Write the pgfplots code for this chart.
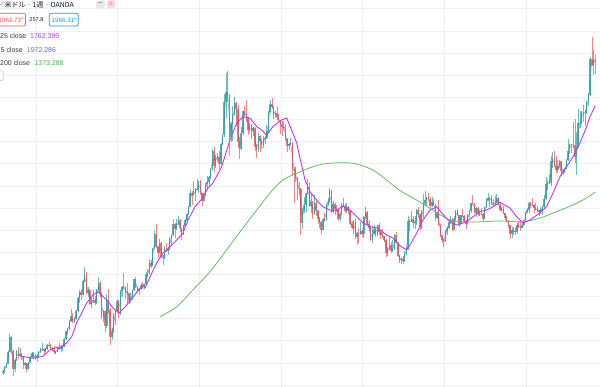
\documentclass[border=0pt]{standalone}
\usepackage{pgfplots}
\pgfplotsset{compat=1.18}
\usepackage{pgfplotstable}
\usepackage{fontspec}
\setmainfont{Liberation Sans}
\newfontfamily\jp{Noto Sans CJK JP}
\definecolor{upc}{HTML}{26A69A}
\definecolor{dnc}{HTML}{EF5350}
\definecolor{ma25c}{HTML}{C435F0}
\definecolor{ma200c}{HTML}{5DBB5D}
\definecolor{ma5c}{HTML}{5C6BC0}
\definecolor{gridc}{HTML}{EDF0F5}
\definecolor{txt}{HTML}{131722}
\definecolor{boxred}{HTML}{F7525F}
\definecolor{boxblue}{HTML}{2196F3}
\definecolor{v5c}{HTML}{7A5CD6}
\definecolor{v200c}{HTML}{4CAF50}

\pgfplotstableread{
i o h l c
0 555 568 545 562
1 562 586 555 582
2 582 600 578 597
3 597 654 595 650
4 650 730 648 718
5 718 722 640 652
6 652 658 543 572
7 572 616 560 614
8 614 660 610 652
9 652 670 620 632
10 632 666 630 642
11 642 645 612 625
12 625 628 575 590
13 590 605 573 599
14 599 600 560 575
15 575 605 570 604
16 604 632 600 628
17 628 650 622 646
18 646 648 620 625
19 625 640 612 632
20 632 640 603 628
21 628 652 625 650
22 650 668 645 665
23 665 690 652 665
24 665 668 637 652
25 652 666 648 662
26 662 684 660 682
27 682 693 675 680
28 680 688 660 666
29 666 672 652 659
30 659 675 642 648
31 648 655 640 650
32 650 668 648 666
33 666 692 660 665
34 665 682 648 670
35 670 675 655 672
36 672 712 670 708
37 708 745 702 743
38 743 760 725 755
39 755 795 750 789
40 789 845 785 812
41 812 825 780 783
42 783 810 780 800
43 800 838 795 834
44 834 900 832 895
45 895 932 870 923
46 923 930 885 908
47 908 975 905 972
48 972 1032 965 1002
49 1002 1010 910 916
50 916 945 900 930
51 930 935 862 865
52 865 895 850 880
53 880 930 870 885
54 885 902 860 870
55 870 935 865 928
56 928 988 925 960
57 960 970 900 913
58 913 920 800 810
59 810 840 786 833
60 833 835 740 765
61 765 910 760 884
62 884 935 820 840
63 840 850 681 718
64 718 760 705 740
65 740 825 735 814
66 814 840 770 836
67 836 885 830 882
68 882 885 805 820
69 820 930 815 927
70 927 950 900 942
71 942 1005 935 942
72 942 950 890 920
73 920 960 866 917
74 917 918 865 880
75 880 915 870 891
76 891 930 885 928
77 928 980 925 979
78 979 990 940 945
79 945 948 915 926
80 926 940 908 935
81 935 960 930 954
82 954 968 940 945
83 945 958 935 955
84 955 1010 952 1002
85 1002 1025 990 1001
86 1001 1070 1000 1052
87 1052 1065 1030 1040
88 1040 1120 1038 1118
89 1118 1195 1110 1182
90 1182 1227 1120 1125
91 1125 1130 1075 1096
92 1096 1162 1095 1140
93 1140 1145 1075 1081
94 1081 1090 1045 1075
95 1075 1128 1070 1118
96 1118 1140 1100 1105
97 1105 1125 1088 1115
98 1115 1168 1112 1160
99 1160 1180 1130 1180
100 1180 1249 1175 1228
101 1228 1232 1165 1207
102 1207 1252 1200 1228
103 1228 1265 1225 1245
104 1245 1250 1190 1210
105 1210 1212 1155 1181
106 1181 1225 1180 1220
107 1220 1250 1215 1248
108 1248 1275 1240 1275
109 1275 1310 1270 1307
110 1307 1387 1305 1368
111 1368 1375 1315 1357
112 1357 1424 1355 1368
113 1368 1390 1330 1386
114 1386 1432 1380 1385
115 1385 1422 1370 1421
116 1421 1425 1360 1368
117 1368 1370 1309 1333
118 1333 1370 1330 1360
119 1360 1415 1355 1409
120 1409 1445 1380 1420
121 1420 1447 1400 1439
122 1439 1480 1430 1474
123 1474 1566 1470 1556
124 1556 1577 1462 1492
125 1492 1538 1480 1536
126 1536 1550 1510 1530
127 1530 1560 1478 1500
128 1500 1595 1495 1590
129 1590 1632 1585 1628
130 1628 1815 1620 1780
131 1780 1912 1705 1826
132 1826 1921 1780 1810
133 1810 1815 1535 1620
134 1620 1690 1600 1682
135 1682 1760 1605 1722
136 1722 1803 1720 1775
137 1775 1780 1670 1746
138 1746 1764 1570 1598
139 1598 1620 1523 1565
140 1565 1665 1562 1640
141 1640 1740 1630 1737
142 1737 1760 1715 1725
143 1725 1790 1690 1710
144 1710 1712 1630 1655
145 1655 1685 1640 1669
146 1669 1680 1612 1650
147 1650 1668 1627 1664
148 1664 1665 1560 1575
149 1575 1590 1527 1561
150 1561 1640 1555 1625
151 1625 1630 1555 1604
152 1604 1610 1565 1585
153 1585 1625 1570 1614
154 1614 1625 1590 1615
155 1615 1675 1612 1648
156 1648 1740 1645 1735
157 1735 1788 1730 1772
158 1772 1796 1750 1756
159 1756 1760 1703 1719
160 1719 1738 1705 1730
161 1730 1755 1700 1712
162 1712 1725 1690 1696
163 1696 1700 1635 1675
164 1675 1695 1625 1665
165 1665 1695 1655 1663
166 1663 1680 1605 1610
167 1610 1615 1555 1579
168 1579 1595 1562 1590
169 1590 1617 1585 1596
170 1596 1600 1450 1478
171 1478 1485 1321 1476
172 1476 1487 1420 1435
173 1435 1440 1338 1392
174 1392 1416 1365 1385
175 1385 1390 1180 1234
176 1234 1300 1207 1285
177 1285 1348 1280 1312
178 1312 1370 1282 1368
179 1368 1433 1365 1395
180 1395 1420 1305 1310
181 1310 1370 1276 1327
182 1327 1330 1251 1275
183 1275 1361 1270 1323
184 1323 1330 1262 1288
185 1288 1292 1230 1250
186 1250 1261 1210 1235
187 1235 1240 1182 1202
188 1202 1255 1200 1252
189 1252 1280 1238 1244
190 1244 1320 1240 1318
191 1318 1345 1310 1326
192 1326 1392 1325 1380
193 1380 1382 1280 1284
194 1284 1332 1280 1318
195 1318 1322 1268 1296
196 1296 1315 1282 1293
197 1293 1297 1240 1250
198 1250 1278 1240 1275
199 1275 1325 1270 1320
200 1320 1345 1305 1310
201 1310 1320 1280 1285
202 1285 1322 1280 1305
203 1305 1310 1273 1287
204 1287 1288 1225 1230
205 1230 1240 1205 1208
206 1208 1245 1183 1238
207 1238 1255 1160 1171
208 1171 1190 1131 1185
209 1185 1208 1142 1183
210 1183 1238 1180 1195
211 1195 1200 1170 1183
212 1183 1265 1167 1260
213 1260 1307 1250 1283
214 1283 1285 1220 1228
215 1228 1245 1195 1212
216 1212 1220 1150 1158
217 1158 1220 1142 1183
218 1183 1224 1180 1205
219 1205 1215 1170 1183
220 1183 1225 1175 1223
221 1223 1232 1180 1190
222 1190 1200 1162 1180
223 1180 1205 1165 1172
224 1172 1175 1145 1155
225 1155 1160 1077 1095
226 1095 1125 1085 1115
227 1115 1170 1110 1133
228 1133 1145 1098 1105
229 1105 1157 1100 1115
230 1115 1185 1110 1180
231 1180 1191 1140 1142
232 1142 1145 1080 1082
233 1082 1090 1052 1065
234 1065 1080 1046 1068
235 1068 1082 1047 1061
236 1061 1105 1058 1098
237 1098 1125 1090 1118
238 1118 1263 1110 1240
239 1240 1250 1195 1238
240 1238 1287 1235 1250
241 1250 1262 1208 1233
242 1233 1262 1205 1236
243 1236 1298 1225 1293
244 1293 1304 1255 1272
245 1272 1275 1200 1215
246 1215 1290 1207 1282
247 1282 1362 1255 1322
248 1322 1375 1310 1336
249 1336 1352 1310 1351
250 1351 1368 1330 1340
251 1340 1352 1300 1309
252 1309 1352 1305 1328
253 1328 1343 1308 1316
254 1316 1318 1241 1256
255 1256 1285 1250 1277
256 1277 1338 1220 1225
257 1225 1228 1170 1173
258 1173 1180 1140 1158
259 1158 1160 1123 1151
260 1151 1200 1148 1196
261 1196 1220 1180 1211
262 1211 1245 1205 1235
263 1235 1264 1230 1249
264 1249 1255 1195 1203
265 1203 1262 1200 1249
266 1249 1290 1242 1288
267 1288 1295 1262 1268
268 1268 1270 1214 1230
269 1230 1270 1225 1268
270 1268 1296 1260 1266
271 1266 1270 1237 1242
272 1242 1245 1205 1228
273 1228 1272 1225 1269
274 1269 1292 1257 1285
275 1285 1325 1280 1322
276 1322 1357 1318 1320
277 1320 1325 1275 1280
278 1280 1306 1260 1302
279 1302 1306 1262 1271
280 1271 1290 1265 1275
281 1275 1299 1270 1275
282 1275 1280 1236 1252
283 1252 1306 1250 1303
284 1303 1345 1300 1337
285 1337 1366 1330 1345
286 1345 1350 1307 1347
287 1347 1360 1315 1318
288 1318 1340 1303 1320
289 1320 1355 1310 1325
290 1325 1365 1322 1346
291 1346 1350 1312 1315
292 1315 1326 1286 1290
293 1290 1307 1282 1298
294 1298 1309 1272 1278
295 1278 1280 1245 1253
296 1253 1265 1236 1241
297 1241 1245 1211 1224
298 1224 1225 1160 1183
299 1183 1214 1167 1201
300 1201 1213 1180 1195
301 1195 1214 1180 1192
302 1192 1233 1182 1225
303 1225 1243 1212 1214
304 1214 1237 1196 1212
305 1212 1231 1208 1222
306 1222 1248 1220 1241
307 1241 1284 1238 1282
308 1282 1300 1276 1291
309 1291 1326 1280 1321
310 1321 1326 1302 1314
311 1314 1346 1310 1313
312 1313 1315 1280 1302
313 1302 1325 1290 1292
314 1292 1310 1282 1290
315 1290 1292 1266 1283
316 1283 1303 1275 1296
317 1296 1308 1268 1305
318 1305 1358 1300 1342
319 1342 1439 1338 1409
320 1409 1425 1382 1415
321 1415 1452 1410 1413
322 1413 1535 1400 1512
323 1512 1555 1480 1520
324 1520 1557 1485 1489
325 1489 1535 1459 1472
326 1472 1518 1460 1489
327 1489 1516 1480 1513
328 1513 1515 1446 1468
329 1468 1478 1450 1464
330 1464 1483 1458 1477
331 1477 1520 1475 1517
332 1517 1611 1515 1557
333 1557 1590 1545 1589
334 1589 1590 1548 1585
335 1585 1689 1570 1585
336 1585 1703 1505 1530
337 1530 1645 1451 1577
338 1577 1747 1570 1685
339 1685 1738 1660 1686
340 1686 1740 1680 1735
341 1735 1765 1690 1730
342 1730 1745 1670 1730
343 1730 1785 1725 1781
344 1781 1818 1760 1810
345 1810 1984 1808 1975
346 1975 2075 1940 1945
347 1945 2015 1902 1967
348 1967 1992 1905 1964
}\gold

\pgfplotsset{
  wick/.style={forget plot, draw=none, mark=none, restrict y to domain=0:5000,
    error bars/.cd, y dir=minus, y explicit, error mark=none,
    error bar style={draw=#1, line width=0.6bp, opacity=0.7}},
  body/.style={forget plot, draw=none, mark=none, restrict y to domain=0:5000,
    error bars/.cd, y dir=minus, y explicit, error mark=none,
    error bar style={draw=#1, line width=1.5bp, line cap=butt, opacity=0.78}},
}

\begin{document}
\begin{tikzpicture}
\begin{axis}[name=ax, width=600bp, height=387bp, scale only axis,
  xmin=-1.735, xmax=350.8, ymin=491.5, ymax=2240.3,
  axis line style={draw=none}, tick style={draw=none},
  xtick={19.5,67.5,115.5,163.5,211.5,259.5,307.5},
  ytick={500,600,...,2200},
  xticklabels={}, yticklabels={},
  grid=major, major grid style={draw=gridc, line width=0.9bp},
]
\addplot[wick=upc] table[x=i, y expr={\thisrow{c}>=\thisrow{o} ? \thisrow{h} : 9999}, y error minus expr={\thisrow{h}-\thisrow{l}}]{\gold};
\addplot[wick=dnc] table[x=i, y expr={\thisrow{c}<\thisrow{o} ? \thisrow{h} : 9999}, y error minus expr={\thisrow{h}-\thisrow{l}}]{\gold};
\addplot[body=upc] table[x=i, y expr={\thisrow{c}>=\thisrow{o} ? \thisrow{c} : 9999}, y error minus expr={\thisrow{c}-\thisrow{o}}]{\gold};
\addplot[body=dnc] table[x=i, y expr={\thisrow{c}<\thisrow{o} ? \thisrow{o} : 9999}, y error minus expr={\thisrow{o}-\thisrow{c}}]{\gold};

% MA 5 (line through the candles)
\addplot[ma5c, line width=0.5bp, opacity=0.7, mark=none] table[x=i, y expr={(\thisrow{o}+\thisrow{c})/2}]{\gold};

% MA 200
\addplot[ma200c, line width=0.75bp, smooth, mark=none] coordinates {
(92.3,809) (102.1,854) (111.6,930) (121.6,1012) (131.4,1111) (139.3,1193)
(149.1,1291) (156.9,1368) (164.5,1427) (174.5,1464) (178.5,1477) (188.0,1499)
(199.8,1505) (207.8,1499) (217.4,1472) (225.4,1427) (233.3,1379) (243.1,1336)
(252.6,1291) (262.6,1246) (272.4,1238) (282.0,1238) (292.0,1242) (305.5,1238)
(315.5,1255) (325.3,1284) (334.9,1314) (343.0,1346) (348,1373)
};

% MA 25
\addplot[ma25c, line width=0.9bp, mark=none] coordinates {
(10.0,632) (16.9,622) (19.8,624) (23.5,631) (27.6,659) (30.6,668) (34.5,674)
(37.4,690) (40.4,719) (43.3,781) (46.3,826) (49.2,871) (52.9,907) (55.8,922)
(58.8,900) (60.9,885) (64.7,848) (68.2,826) (71.7,853) (76.4,898) (80.5,939)
(83.5,939) (86.4,989) (90.3,1052) (94.0,1097) (98.1,1124) (102.1,1156)
(105.8,1187) (108.7,1246) (112.8,1305) (116.8,1341) (120.5,1391) (123.4,1413)
(128.5,1487) (133.4,1608) (137.3,1684) (141.0,1713) (145.1,1707) (149.1,1668)
(152.0,1653) (154.9,1630) (158.6,1668) (163.8,1698) (166.7,1707) (169.6,1653)
(172.6,1594) (174.5,1526) (177.5,1427) (180.4,1374) (184.3,1336) (188.0,1306)
(192.1,1291) (196.1,1291) (199.8,1309) (203.9,1291) (207.8,1261) (211.5,1233)
(215.6,1216) (220.3,1210) (225.4,1178) (229.1,1165) (233.3,1129) (237.2,1111)
(239.1,1133) (243.1,1187) (246.8,1246) (250.9,1291) (254.8,1306) (257.8,1278)
(261.5,1246) (266.6,1223) (272.4,1238) (276.1,1260) (280.2,1284) (284.2,1291)
(287.9,1306) (292.0,1326) (297.9,1300) (301.8,1261) (305.5,1233) (309.6,1246)
(315.5,1278) (319.4,1306) (323.2,1368) (327.3,1442) (331.2,1487) (334.9,1532)
(339.0,1594) (343.0,1668) (344.9,1713) (348,1762)
};
\end{axis}

\begin{scope}[shift={(ax.north west)}, x=1bp, y=-1bp]
  % title line
  \node[anchor=west, inner sep=0pt, text=txt, font=\jp\fontsize{7}{8}\selectfont] at (-2.5,5) {／米ドル · 1週 · OANDA};
  \draw[draw=none, fill=gray!18, rounded corners=1.5bp] (96,0.5) rectangle (105,8.5);
  \node[inner sep=0pt, text=txt!80, font=\fontsize{7}{8}\selectfont] at (100.5,4.5) {−};
  \draw[draw=none, fill=boxred!22, rounded corners=1.5bp] (106.5,0.5) rectangle (115.5,8.5);
  \node[inner sep=0pt, text=boxred, font=\fontsize{7}{8}\selectfont] at (111,4.5) {=};
  % price boxes
  \draw[boxred, line width=0.7bp, fill=white, rounded corners=2bp] (-4,13.3) rectangle (25.5,26);
  \node[anchor=east, inner sep=0pt, text=boxred, font=\fontsize{6.3}{7}\selectfont] at (23.8,19.8) {1963.73\raisebox{1.6bp}{\fontsize{4.3}{5}\selectfont 7}};
  \node[anchor=west, inner sep=0pt, text=txt, font=\fontsize{5.6}{6}\selectfont] at (29.3,19.8) {257.8};
  \draw[boxblue, line width=0.7bp, fill=white, rounded corners=2bp] (49.3,13.3) rectangle (78.3,26);
  \node[anchor=west, inner sep=0pt, text=boxblue, font=\fontsize{6.3}{7}\selectfont] at (51.5,19.8) {1966.31\raisebox{1.6bp}{\fontsize{4.3}{5}\selectfont 5}};
  % indicator lines
  \node[anchor=west, inner sep=0pt, text=txt!85, font=\fontsize{7}{8}\selectfont] at (0,35.7) {25 close};
  \node[anchor=west, inner sep=0pt, text=ma25c, font=\fontsize{7}{8}\selectfont] at (30,35.7) {1762.399};
  \node[anchor=west, inner sep=0pt, text=txt!85, font=\fontsize{7}{8}\selectfont] at (0.5,50) {5 close};
  \node[anchor=west, inner sep=0pt, text=v5c, font=\fontsize{7}{8}\selectfont] at (26.7,50) {1972.286};
  \node[anchor=west, inner sep=0pt, text=txt!85, font=\fontsize{7}{8}\selectfont] at (0,63.3) {200 close};
  \node[anchor=west, inner sep=0pt, text=v200c, font=\fontsize{7}{8}\selectfont] at (34.3,63.3) {1373.288};
  \draw[gray!40, line width=0.6bp, fill=white, rounded corners=1.5bp] (-10,70.7) rectangle (3.3,80.5);
\end{scope}
\pgfresetboundingbox
\useasboundingbox (ax.south west) rectangle (ax.north east);
\end{tikzpicture}
\end{document}
